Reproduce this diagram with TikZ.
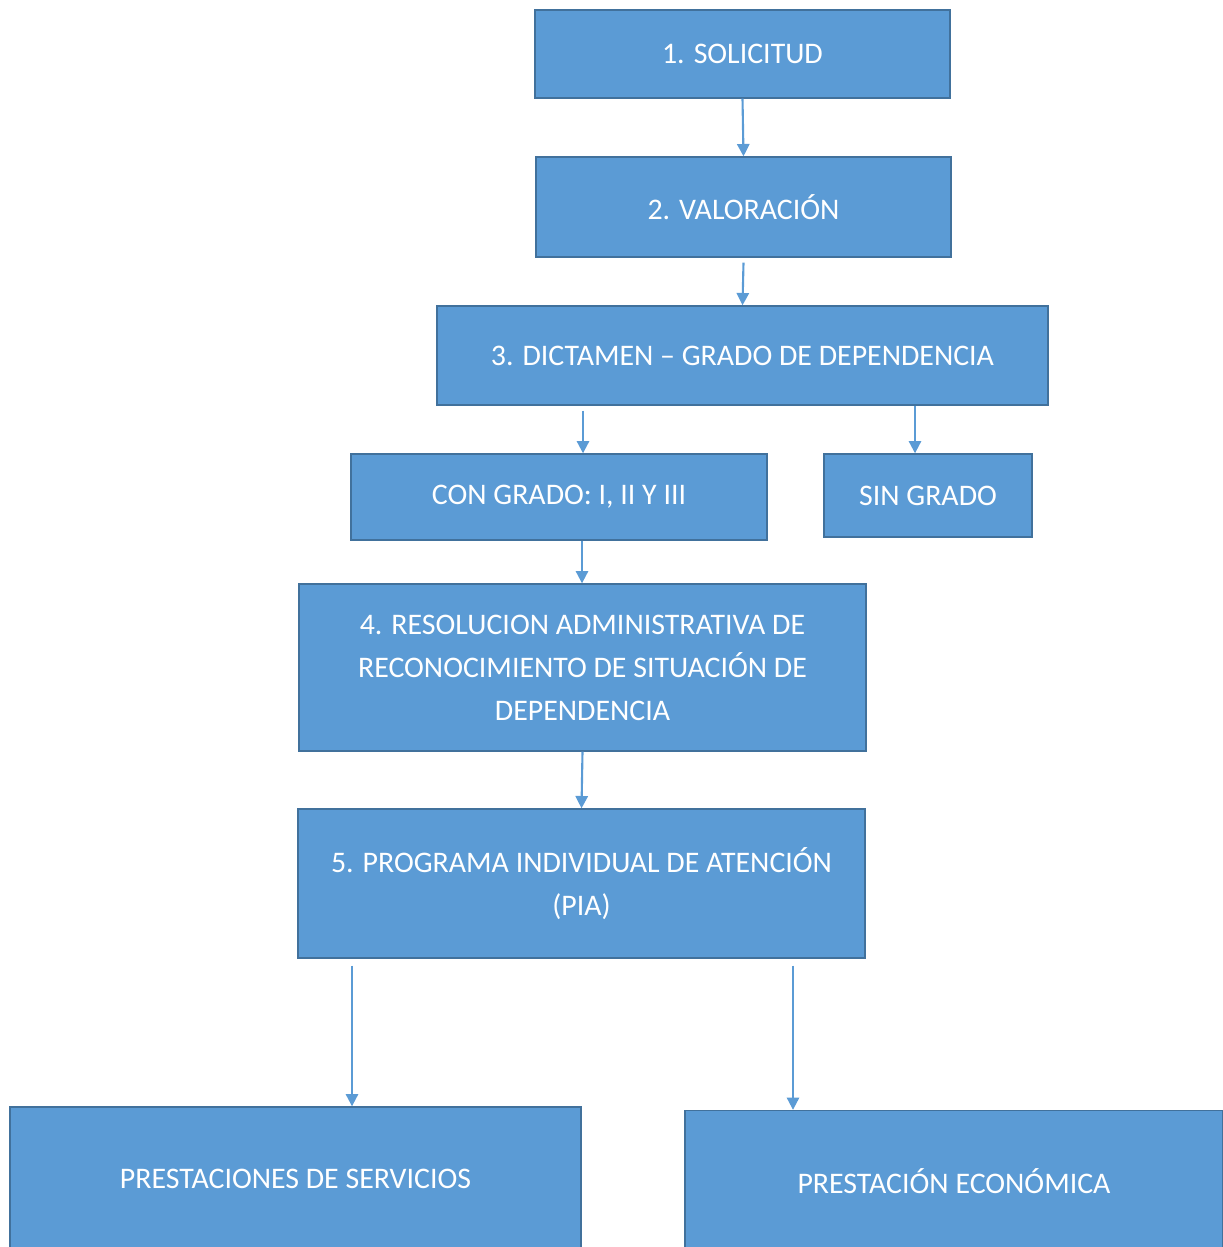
\documentclass[tikz,border=0pt]{standalone}
\usepackage{fontspec}
\setmainfont{Carlito}
\usetikzlibrary{arrows.meta}
\definecolor{azul}{HTML}{5B9BD5}
\definecolor{borde}{HTML}{41719C}
\tikzset{
  caja/.style={draw=borde,line width=0.8pt,fill=azul,text=white,align=center,
    inner sep=0pt,font=\fontsize{17}{24.5}\selectfont},
  flecha/.style={draw=azul,line width=1.2pt,-{Triangle[width=7pt,length=7pt]}}
}
\begin{document}
\begin{tikzpicture}[x=0.02cm,y=-0.02cm]
        \useasboundingbox (0,0) rectangle (1223,1247);
        \node[caja,minimum width=8.3cm,minimum height=1.76cm](sol)at(742.5,54){1. SOLICITUD};
        \node[caja,minimum width=8.3cm,minimum height=2cm](val)at(743.5,207){2. VALORACIÓN};
        \node[caja,minimum width=12.22cm,minimum height=1.98cm](dic)at(742.5,355.5){3. DICTAMEN – GRADO DE DEPENDENCIA};
        \node[caja,minimum width=8.32cm,minimum height=1.72cm](con)at(559,497){CON GRADO: I, II Y III};
        \node[caja,minimum width=4.16cm,minimum height=1.66cm](sin)at(928,495.5){SIN GRADO};
        \node[caja,minimum width=11.34cm,minimum height=3.34cm](res)at(582.5,667.5){4. RESOLUCION ADMINISTRATIVA DE\\RECONOCIMIENTO DE SITUACIÓN DE\\DEPENDENCIA};
        \node[caja,minimum width=11.34cm,minimum height=2.98cm](pia)at(581.5,883.5){5. PROGRAMA INDIVIDUAL DE ATENCIÓN\\(PIA)};
        \node[caja,minimum width=11.42cm,minimum height=2.86cm](ser)at(295.5,1178.5){PRESTACIONES DE SERVICIOS};
        \node[caja,minimum width=10.76cm,minimum height=2.82cm](eco)at(954,1181){PRESTACIÓN ECONÓMICA};
        % flechas
        \draw[flecha](sol.south)--(val.north);
        \draw[flecha]([yshift=-0.1cm]val.south)--(dic.north);
        \draw[flecha]([yshift=-0.1cm]dic.south -| 583,0)--(con.north -| 583,0);
        \draw[flecha](dic.south -| 915,0)--(sin.north -| 915,0);
        \draw[flecha](con.south -| 582,0)--(res.north -| 582,0);
        \draw[flecha](res.south)--(pia.north);
        \draw[flecha]([yshift=-0.14cm]pia.south -| 352,0)--(ser.north -| 352,0);
        \draw[flecha]([yshift=-0.14cm]pia.south -| 793,0)--(eco.north -| 793,0);
    \end{tikzpicture}
\end{document}
